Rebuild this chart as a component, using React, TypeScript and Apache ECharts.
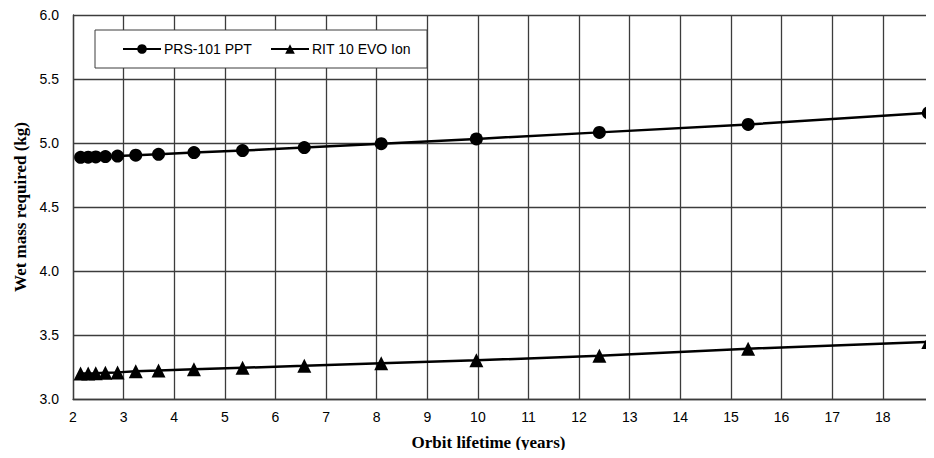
import React, { useEffect, useRef } from "react";
import * as echarts from "echarts";

const lifetimeYears = [2.15, 2.3, 2.45, 2.64, 2.88, 3.24, 3.69, 4.39, 5.35, 6.57, 8.09, 9.97, 12.4, 15.34, 18.9];
const prsWetMass = [4.888, 4.889, 4.891, 4.894, 4.898, 4.905, 4.912, 4.925, 4.941, 4.964, 4.995, 5.032, 5.083, 5.145, 5.235];
const ritWetMass = [3.199, 3.2, 3.202, 3.205, 3.208, 3.216, 3.222, 3.232, 3.244, 3.259, 3.28, 3.302, 3.338, 3.393, 3.446];
const seriesNames = ["PRS-101 PPT", "RIT 10 EVO Ion"];
const xAxisTitle = "Orbit lifetime (years)";
const yAxisTitle = "Wet mass required (kg)";

const GRID = "#3c3c3c";
const LABEL_FONT = "'Liberation Sans', Arial, sans-serif";
const TITLE_FONT = "'Liberation Serif', 'Times New Roman', serif";

export default function App() {
  const ref = useRef<HTMLDivElement>(null);
  useEffect(() => {
    if (!ref.current) return;
    const chart = echarts.init(ref.current, undefined, { renderer: "svg" });
    const pairs = (ys: number[]) => lifetimeYears.map((x, i) => [x, ys[i]]);
    chart.setOption({
      animation: false,
      backgroundColor: "#ffffff",
      grid: {
        left: 73,
        top: 15,
        width: 911,
        height: 384,
        containLabel: false,
        outerBoundsMode: "none",
      },
      xAxis: {
        type: "value",
        min: 2,
        max: 20,
        interval: 1,
        name: xAxisTitle,
        nameLocation: "middle",
        nameGap: 35,
        nameTextStyle: {
          fontFamily: TITLE_FONT,
          fontWeight: "bold",
          fontSize: 17,
          color: "#000",
          padding: [0, 80, 0, 0],
        },
        axisLine: { show: true, lineStyle: { color: GRID, width: 1.3 } },
        axisTick: { show: false },
        axisLabel: { fontFamily: LABEL_FONT, fontSize: 14, color: "#000", margin: 11 },
        splitLine: { show: true, lineStyle: { color: GRID, width: 1.3 } },
      },
      yAxis: {
        type: "value",
        min: 3,
        max: 6,
        interval: 0.5,
        name: yAxisTitle,
        nameLocation: "middle",
        nameGap: 42,
        nameTextStyle: {
          fontFamily: TITLE_FONT,
          fontWeight: "bold",
          fontSize: 17,
          color: "#000",
        },
        axisLine: { show: true, lineStyle: { color: GRID, width: 1.3 } },
        axisTick: { show: false },
        axisLabel: {
          fontFamily: LABEL_FONT,
          fontSize: 14,
          color: "#000",
          margin: 14,
          formatter: (v: number) => v.toFixed(1),
        },
        splitLine: { show: true, lineStyle: { color: GRID, width: 1.3 } },
      },
      graphic: [
        {
          type: "rect",
          z: 10,
          shape: { x: 95, y: 30, width: 332, height: 38 },
          style: { fill: "#ffffff", stroke: GRID, lineWidth: 1 },
        },
      ],
      legend: [
        {
          z: 20,
          data: [seriesNames[0]],
          left: 122,
          top: 42,
          padding: 0,
          itemWidth: 38,
          itemHeight: 12,
          textStyle: { fontFamily: LABEL_FONT, fontSize: 14, color: "#000", padding: [0, 0, 0, -2] },
        },
        {
          z: 20,
          data: [seriesNames[1]],
          left: 270,
          top: 42,
          padding: 0,
          itemWidth: 38,
          itemHeight: 12,
          textStyle: { fontFamily: LABEL_FONT, fontSize: 14, color: "#000", padding: [0, 0, 0, -2] },
        },
      ],
      series: [
        {
          name: seriesNames[0],
          type: "line",
          data: pairs(prsWetMass),
          symbol: "circle",
          symbolSize: 13,
          lineStyle: { color: "#000", width: 2.5 },
          itemStyle: { color: "#000" },
        },
        {
          name: seriesNames[1],
          type: "line",
          data: pairs(ritWetMass),
          symbol: "triangle",
          symbolSize: 14,
          lineStyle: { color: "#000", width: 2.5 },
          itemStyle: { color: "#000" },
        },
      ],
    });
    return () => chart.dispose();
  }, []);
  return <div ref={ref} style={{ width: 934, height: 458, margin: -8 }} />;
}
